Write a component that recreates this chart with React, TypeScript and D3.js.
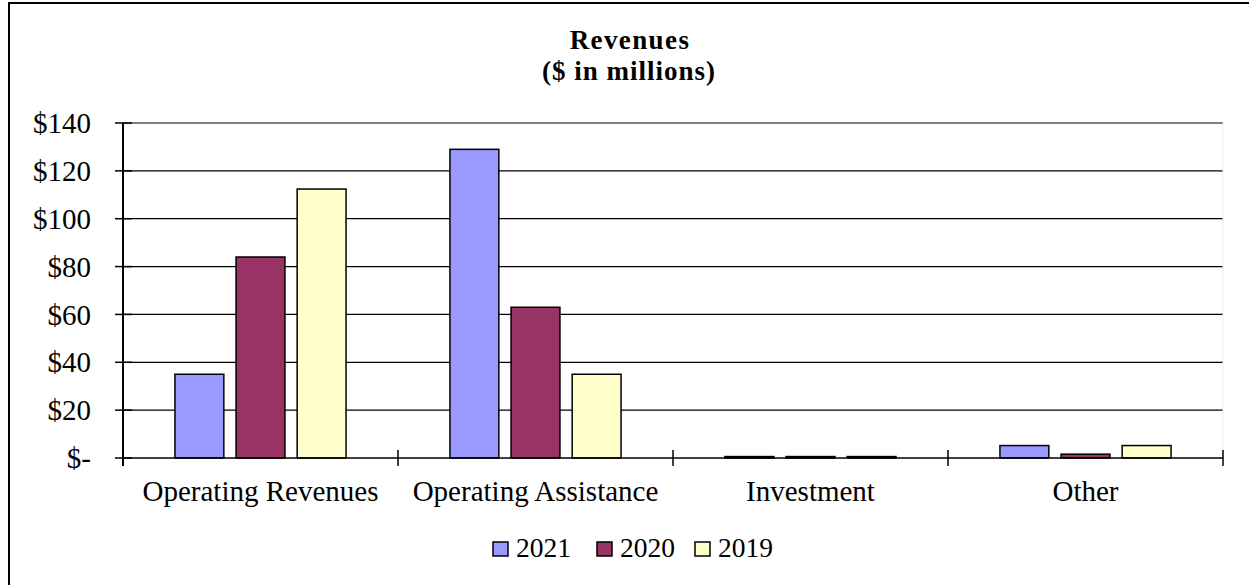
import React from 'react'
import { scaleBand, scaleLinear, range } from 'd3'

// chart values
const categories = ['Operating Revenues', 'Operating Assistance', 'Investment', 'Other']
const seriesNames = ['2021', '2020', '2019']
const values2021 = [35, 129, 0.6, 5.2]
const values2020 = [84, 63, 0.6, 1.6]
const values2019 = [112.4, 35, 0.6, 5.2]
const yTicks = [0, 20, 40, 60, 80, 100, 120, 140]

const seriesValues = [values2021, values2020, values2019]
const colors = ['#9999FF', '#993366', '#FFFFCC']

const FONT = '"Liberation Serif", "Times New Roman", Times, serif'

const App = () => {
    const width = 1249
    const height = 585
    const plot = { left: 123, right: 1223, top: 123, bottom: 458 }

    const x0 = scaleBand<string>()
        .domain(categories)
        .range([plot.left, plot.right])
        .padding(0)

    const x1 = scaleBand<string>()
        .domain(seriesNames)
        .range([0, x0.bandwidth()])
        .paddingInner(0.2)
        .paddingOuter(0.85)

    const y = scaleLinear()
        .domain([0, 140])
        .range([plot.bottom, plot.top])

    const fmt = (v: number) => (v === 0 ? '$-' : `$${v}`)

    const catTicks = range(categories.length + 1).map(i => plot.left + i * x0.step())

    const legendX = [493, 597, 695]

    return (
        <svg width={width} height={height} style={{ position: 'absolute', left: 0, top: 0, background: '#fff' }} fontFamily={FONT}>
            {/* outer frame, runs off the right and bottom edge like the source */}
            <rect x={9} y={3} width={1260} height={600} fill='#fff' stroke='#000' strokeWidth={2} />

            <text x={630} y={49} textAnchor='middle' fontSize={27} fontWeight='bold' letterSpacing={1.4}>Revenues</text>
            <text x={629} y={80} textAnchor='middle' fontSize={27} fontWeight='bold' letterSpacing={1}>($ in millions)</text>

            {/* gridlines + y ticks */}
            {yTicks.map(t => (
                <g key={t}>
                    {t > 0 && <line x1={plot.left} x2={plot.right} y1={y(t)} y2={y(t)} stroke={t === 140 ? '#555' : '#000'} strokeWidth={1.3} />}
                    <line x1={plot.left - 8} x2={plot.left + 9} y1={y(t)} y2={y(t)} stroke='#000' strokeWidth={1.5} />
                    <text x={91} y={y(t)} dy='0.35em' textAnchor='end' fontSize={29}>{fmt(t)}</text>
                </g>
            ))}
            <line x1={plot.right} x2={plot.right} y1={plot.top} y2={plot.bottom} stroke='#eee' strokeWidth={1} />

            {/* bars */}
            {categories.map((c, ci) => (
                <g key={c} transform={`translate(${x0(c)},0)`}>
                    {seriesNames.map((s, si) => {
                        const v = seriesValues[si][ci]
                        return (
                            <rect key={s}
                                x={x1(s)}
                                y={y(v)}
                                width={x1.bandwidth()}
                                height={y(0) - y(v)}
                                fill={colors[si]}
                                stroke='#000'
                                strokeWidth={1.5} />
                        )
                    })}
                </g>
            ))}

            {/* axes */}
            <line x1={plot.left} x2={plot.left} y1={plot.top} y2={plot.bottom + 8} stroke='#000' strokeWidth={2} />
            <line x1={plot.left} x2={plot.right} y1={plot.bottom} y2={plot.bottom} stroke='#000' strokeWidth={1.5} />
            {catTicks.map((tx, i) => (
                <line key={i} x1={tx} x2={tx} y1={plot.bottom - 8} y2={plot.bottom + 8} stroke='#000' strokeWidth={1.5} />
            ))}
            {categories.map(c => (
                <text key={c} x={(x0(c) || 0) + x0.bandwidth() / 2} y={501} textAnchor='middle' fontSize={29}>{c}</text>
            ))}

            {/* legend */}
            {seriesNames.map((s, i) => (
                <g key={s}>
                    <rect x={legendX[i]} y={542} width={15} height={14} fill={colors[i]} stroke='#000' strokeWidth={1.5} />
                    <text x={legendX[i] + 23} y={556.5} fontSize={27.5}>{s}</text>
                </g>
            ))}
        </svg>
    )
}

export default App
